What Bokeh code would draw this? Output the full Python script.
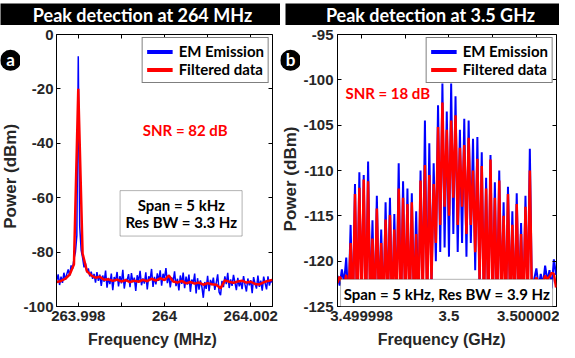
import numpy as np
from bokeh.plotting import figure
from bokeh.layouts import row, column
from bokeh.models import (Range1d, FixedTicker, LinearAxis, Legend, LegendItem,
                          Label, BoxAnnotation)
from bokeh.embed import file_html
from bokeh.resources import INLINE

# ---------------- data ----------------
# Panel a: spectrum around 264 MHz, x = offset from 264 MHz in kHz
a_em_dbm = [
    -90.5, -88.2, -92.1, -89.0, -91.3, -87.6, -90.2, -88.1, -86.4, -88.7,
    -84.9, -86.2, -82.5, -80.1, -74.0, -8.0, -70.5, -79.3, -82.0, -85.6,
    -84.1, -87.5, -86.0, -88.9, -87.2, -89.8, -88.0, -91.2, -87.4, -90.6,
    -88.3,
    -92.4, -88.6, -90.9, -86.8, -93.1, -89.5, -91.8, -87.9, -94.0, -89.2,
    -90.7, -87.3, -92.6, -88.8, -91.5, -86.5, -93.4, -89.9, -90.3, -88.1,
    -92.9, -87.7, -91.1, -89.4, -94.3, -88.5, -90.8, -86.9, -92.2, -89.7,
    -91.6, -87.4, -93.7, -88.9, -90.1, -86.2, -92.8, -89.1, -91.9, -87.8,
    -90.6, -86.7, -92.3, -88.0, -89.6, -85.9, -91.4, -88.4, -93.0, -89.3,
    -90.9, -87.1, -92.5, -89.8, -94.1, -88.6, -91.7, -87.5, -93.3, -89.0,
    -92.0, -88.3, -94.6, -90.1, -91.5, -87.9, -95.2, -89.6, -93.8, -90.4,
    -92.7, -96.8, -91.0, -93.5, -88.7, -94.4, -90.2, -92.1, -89.4, -93.9,
    -91.3, -88.2, -94.7, -95.8, -90.6, -92.9, -88.9, -91.8, -87.6, -93.2,
    -90.0, -92.4, -88.4, -91.1, -94.0, -89.5, -92.6, -90.7, -93.6, -88.8,
    -91.9, -94.5, -89.7, -92.2, -90.3, -95.1, -89.2, -91.6, -93.4, -88.6,
    -92.8, -90.5, -94.2, -89.0, -91.4, -93.7, -88.9, -92.3, -90.1, -91.2,
]
a_filt_dbm = [
    -91.0, -90.6, -89.8, -88.3, -84.5, -20.0, -80.5, -87.0, -88.6, -89.4,
    -89.1, -90.2, -90.0, -90.6, -90.1, -90.8, -90.3, -91.0, -90.5, -90.9,
    -90.2, -90.7, -89.8, -90.5, -89.6, -90.3, -88.6, -90.8, -91.2, -90.6,
    -91.5, -91.0, -91.6, -91.2, -92.0, -91.4, -91.8, -92.0, -93.3, -90.4,
    -90.9, -91.3, -90.8, -90.5, -91.2, -90.9, -91.7, -91.9, -91.1, -90.6,
    -90.2,
]
a_xticks = [-2, 0, 2]
a_xminor = [-1, 1]
a_xtick_labels = ["263.998", "264", "264.002"]
a_yticks = [-100, -80, -60, -40, -20, 0]
a_ytick_labels = ["-100", "-80", "-60", "-40", "-20", "0"]

# Panel b: spectrum around 3.5 GHz, x = offset from 3.5 GHz in kHz
b_em_dbm = [
    -121.6, -122.7, -120.9, -122.4, -119.6, -125.0, -116.0, -126.0, -111.5, -126.0,
    -110.2, -125.0, -110.5, -126.0, -109.0, -125.0, -115.5, -126.0, -112.8, -125.0,
    -116.5, -126.0, -113.5, -125.0, -113.0, -126.0, -114.8, -125.0, -109.2, -126.0,
    -111.2, -125.0, -112.0, -126.0, -112.5, -125.0, -114.5, -126.0, -110.0, -124.0,
    -104.5, -125.0, -107.0, -123.0, -109.2, -120.0, -102.8, -119.0, -100.4, -118.5,
    -103.5, -119.5, -100.4, -117.0, -101.8, -119.0, -105.5, -118.0, -104.3, -119.5,
    -104.5, -118.0, -106.5, -121.0, -106.3, -123.0, -108.0, -125.0, -110.8, -126.0,
    -108.3, -125.0, -111.3, -126.0, -110.0, -125.0, -113.5, -126.0, -111.8, -125.0,
    -114.5, -126.0, -112.5, -125.0, -115.8, -126.0, -112.8, -125.0, -107.6, -124.5,
    -122.0, -120.8, -122.9, -121.4, -122.6, -120.5, -122.2, -121.0, -123.0, -119.8,
    -121.5,
]
b_filt_dbm = [
    -122.4, -121.7, -122.2, -122.8, -121.5, -124.5, -118.0, -126.0, -112.6, -126.0,
    -111.9, -125.0, -111.0, -126.0, -111.2, -125.5, -117.5, -126.0, -114.2, -125.0,
    -118.0, -126.0, -115.4, -125.0, -114.9, -126.0, -116.5, -125.0, -112.0, -126.0,
    -113.0, -125.0, -113.7, -126.0, -113.5, -125.0, -117.0, -126.0, -111.1, -124.0,
    -109.4, -125.0, -110.5, -122.0, -111.5, -118.0, -105.2, -116.0, -102.5, -114.0,
    -105.5, -115.0, -104.5, -113.0, -103.9, -116.0, -107.5, -114.0, -107.2, -117.0,
    -106.4, -116.0, -110.0, -119.0, -108.7, -122.0, -109.5, -125.0, -112.0, -126.0,
    -108.8, -125.0, -113.0, -126.0, -111.1, -125.0, -115.0, -126.0, -112.6, -125.0,
    -116.0, -126.0, -113.7, -125.0, -117.0, -126.0, -114.0, -125.0, -110.0, -125.0,
    -122.4, -121.8, -122.6, -122.1, -122.5, -121.6, -122.0, -121.7, -121.3, -121.4,
    -122.9,
]
b_xticks = [-2, 0, 2]
b_xminor = [-1, 1]
b_xtick_labels = ["3.499998", "3.5", "3.500002"]
b_yticks = [-125, -120, -115, -110, -105, -100, -95]
b_ytick_labels = ["-125", "-120", "-115", "-110", "-105", "-100", "-95"]

# sample positions (uniform frequency grid of the analyser sweep)
a_em_khz = np.linspace(-2.5, 2.5, len(a_em_dbm))
a_filt_khz = np.linspace(-2.5, 2.5, len(a_filt_dbm))
b_khz = np.linspace(-2.55, 2.45, len(b_em_dbm))

# ---------------- style ----------------
BLUE = "#0000FF"
RED = "#FF0000"
INK = "#262626"
TICK_FONT = "Liberation Sans"
TXT_FONT = "Lato"
TOP_GAP = 3         # white space above the title bar
BAR_H = 22          # title bar height
MAIN_H = 305        # main figure height
BOT_H = 18          # strip holding the x title
STRIP_W = 20        # strip holding the panel letter and y title
NAN2 = [np.nan, np.nan]


def make_main(width, bl, br, xr, yr, xt, xm, xl, yt, yl, ystand):
    p = figure(width=width, height=MAIN_H, x_range=Range1d(*xr), y_range=Range1d(*yr),
               output_backend="svg", toolbar_location=None,
               x_axis_type=None, y_axis_type=None,
               min_border_left=bl, min_border_right=br,
               min_border_top=9, min_border_bottom=24)
    p.outline_line_color = "black"
    p.outline_line_width = 1
    p.background_fill_color = "white"
    p.border_fill_color = "white"

    def base(ax, ticks, minor, labels):
        ax.ticker = FixedTicker(ticks=ticks, minor_ticks=minor)
        ax.major_tick_in = 4
        ax.major_tick_out = 0
        ax.minor_tick_in = 4
        ax.minor_tick_out = 0
        ax.major_tick_line_color = "black"
        ax.minor_tick_line_color = "black"
        ax.axis_line_color = "black"
        ax.major_label_overrides = dict(zip(ticks, labels))
        ax.major_label_text_font = TICK_FONT
        ax.major_label_text_font_style = "bold"
        ax.major_label_text_font_size = "15px"
        ax.major_label_text_color = INK

    xa = LinearAxis()
    base(xa, xt, xm, xl)
    xa.major_label_standoff = 4
    p.add_layout(xa, "below")
    ya = LinearAxis()
    base(ya, yt, [], yl)
    ya.major_label_standoff = ystand
    p.add_layout(ya, "left")
    # mirrored inward ticks (box on)
    for side, tk, mn in (("above", xt, xm), ("right", yt, [])):
        ax = LinearAxis()
        base(ax, tk, mn, [""] * len(tk))
        ax.major_label_text_font_size = "0px"
        ax.major_label_standoff = 0
        ax.axis_line_color = None
        p.add_layout(ax, side)
    return p


def add_legend(p):
    r1 = p.line(NAN2, NAN2, line_color=BLUE, line_width=4)
    r2 = p.line(NAN2, NAN2, line_color=RED, line_width=4)
    leg = Legend(items=[LegendItem(label="EM Emission", renderers=[r1]),
                        LegendItem(label="Filtered data", renderers=[r2])],
                 location="top_right", margin=3, padding=4, spacing=0,
                 label_height=17, glyph_height=17, glyph_width=26, label_standoff=6,
                 border_line_color="black", border_line_width=1,
                 background_fill_color="white", background_fill_alpha=1,
                 label_text_font=TXT_FONT, label_text_font_style="bold",
                 label_text_font_size="15px", label_text_color="black")
    p.add_layout(leg)


def plain_strip(width, height, left_gap=0, top_gap=0):
    # a frame in pixel units: data coordinates equal canvas pixels (y up)
    s = figure(width=width, height=height, output_backend="svg", toolbar_location=None,
               x_axis_type=None, y_axis_type=None, min_border=0,
               min_border_left=left_gap, min_border_top=top_gap,
               x_range=Range1d(0, width - left_gap), y_range=Range1d(0, height - top_gap))
    s.background_fill_color = "white"
    s.border_fill_color = "white"
    s.outline_line_color = None
    s.xgrid.visible = False
    s.ygrid.visible = False
    return s


def title_bar(width, left_gap, text, text_x):
    t = plain_strip(width, TOP_GAP + BAR_H, left_gap, TOP_GAP)
    t.background_fill_color = "black"
    t.add_layout(Label(x=text_x, y=BAR_H / 2, text=text,
                       text_align="center", text_baseline="middle", text_color="white",
                       text_font=TXT_FONT, text_font_style="bold", text_font_size="18px"))
    return t


def side_strip(letter, ytitle_y):
    s = plain_strip(STRIP_W, MAIN_H)
    cy = MAIN_H - 29
    s.scatter(x=[STRIP_W / 2], y=[cy], size=21, marker="circle",
              fill_color="black", line_color=None)
    s.add_layout(Label(x=STRIP_W / 2, y=cy + 1, text=letter,
                       text_align="center", text_baseline="middle", text_color="white",
                       text_font=TXT_FONT, text_font_style="bold", text_font_size="17px"))
    s.add_layout(Label(x=STRIP_W / 2, y=ytitle_y, text="Power (dBm)", angle=np.pi / 2,
                       text_align="center", text_baseline="middle", text_color=INK,
                       text_font=TICK_FONT, text_font_style="bold", text_font_size="17px"))
    return s


def bottom_strip(width, text, text_x):
    b = plain_strip(width, BOT_H)
    b.add_layout(Label(x=text_x, y=BOT_H / 2, text=text,
                       text_align="center", text_baseline="middle", text_color=INK,
                       text_font=TICK_FONT, text_font_style="bold", text_font_size="16px"))
    return b


# ---------------- panel a ----------------
pa = make_main(260, 33, 8, (-2.505, 2.505), (-100, 0), a_xticks, a_xminor, a_xtick_labels,
               a_yticks, a_ytick_labels, 3)
pa.line(a_em_khz, a_em_dbm, line_color=BLUE, line_width=1.5)
pa.line(a_filt_khz, a_filt_dbm, line_color=RED, line_width=2.5)
add_legend(pa)
pa.add_layout(Label(x=0.48, y=-35.1, text="SNR = 82 dB", text_align="center", text_baseline="middle",
                    text_color=RED, text_font=TXT_FONT, text_font_style="bold", text_font_size="15px"))
pa.add_layout(BoxAnnotation(left=-1.03, right=1.80, top=-57.4, bottom=-74.1,
                            fill_color="white", fill_alpha=1, line_color="black", line_width=1))
pa.add_layout(Label(x=0.39, y=-62.8, text="Span = 5 kHz", text_align="center", text_baseline="middle",
                    text_color="black", text_font=TXT_FONT, text_font_style="bold", text_font_size="15px"))
pa.add_layout(Label(x=0.39, y=-69.1, text="Res BW = 3.3 Hz", text_align="center", text_baseline="middle",
                    text_color="black", text_font=TXT_FONT, text_font_style="bold", text_font_size="15px"))
ta = title_bar(STRIP_W + 260, 0, "Peak detection at 264 MHz", 142)
sa = side_strip("a", 146)
ba = bottom_strip(STRIP_W + 260, "Frequency (MHz)", 152)

# ---------------- panel b ----------------
pb = make_main(259, 36, 3, (-2.55, 2.46), (-125, -95), b_xticks, b_xminor, b_xtick_labels,
               b_yticks, b_ytick_labels, 4)
pb.line(b_khz, b_em_dbm, line_color=BLUE, line_width=2)
pb.line(b_khz, b_filt_dbm, line_color=RED, line_width=2.5)
add_legend(pb)
pb.add_layout(Label(x=-1.40, y=-101.4, text="SNR = 18 dB", text_align="center", text_baseline="middle",
                    text_color=RED, text_font=TXT_FONT, text_font_style="bold", text_font_size="15px"))
pb.add_layout(BoxAnnotation(left=-2.48, right=2.37, top=-122.0, bottom=-125.0,
                            fill_color="white", fill_alpha=1, line_color="black", line_width=1))
pb.add_layout(Label(x=-0.05, y=-123.6, text="Span = 5 kHz, Res BW = 3.9 Hz", text_align="center",
                    text_baseline="middle", text_color="black", text_font=TXT_FONT,
                    text_font_style="bold", text_font_size="15px"))
tb = title_bar(STRIP_W + 259, 5, "Peak detection at 3.5 GHz", 145)
sb = side_strip("b", 143)
bb = bottom_strip(STRIP_W + 259, "Frequency (GHz)", 159)

layout = row(column(ta, row(sa, pa), ba), column(tb, row(sb, pb), bb))
open("out.html", "w").write(file_html(layout, INLINE))
